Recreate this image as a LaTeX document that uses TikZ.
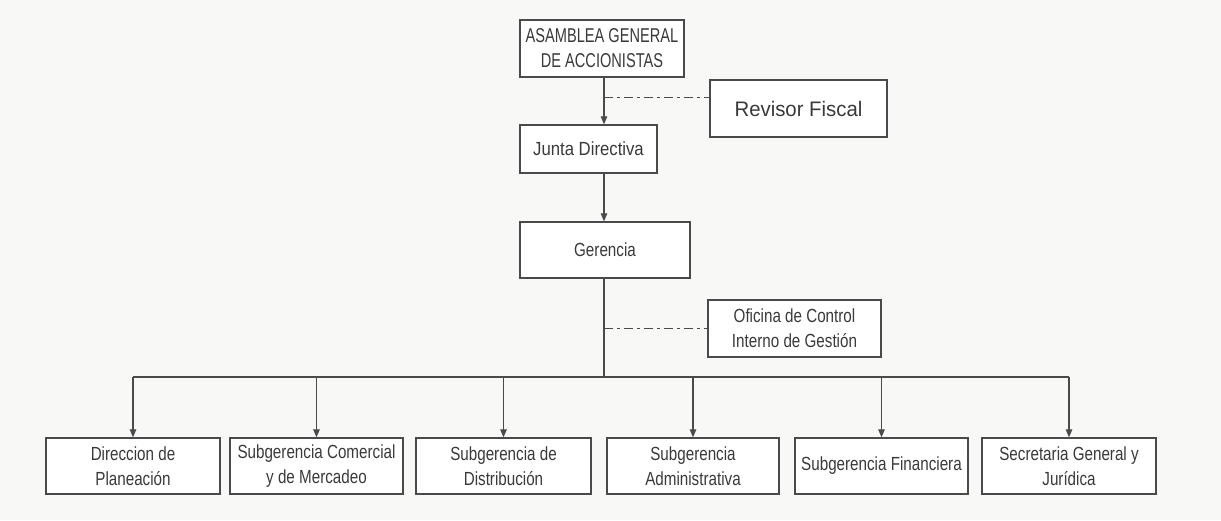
\documentclass[tikz,border=0pt]{standalone}
\usepackage{fontspec}
\usetikzlibrary{arrows.meta}
\newfontfamily\nf[FakeStretch=0.8]{Liberation Sans}
\newfontfamily\nfa[FakeStretch=0.73]{Liberation Sans}
\newfontfamily\nfr[FakeStretch=0.97]{Liberation Sans}
\newfontfamily\nfj[FakeStretch=0.88]{Liberation Sans}
\definecolor{ln}{HTML}{4A4A4A}
\definecolor{tx}{HTML}{3A3A3A}
\definecolor{bg}{HTML}{F8F8F7}
\begin{document}
\begin{tikzpicture}[x=1pt,y=-1pt,
  box/.style={draw=ln,line width=1.3pt,fill=white,inner sep=0pt,align=center,text=tx,
    font=\nf\fontsize{19}{25}\selectfont},
  conn/.style={draw=ln,line width=1.2pt},
  arr/.style={conn,-{Triangle[length=8pt,width=6.5pt]}},
  dd/.style={draw=ln,line width=1.2pt,dash pattern=on 9pt off 4pt on 3pt off 4pt}]
\useasboundingbox (0,0) rectangle (1221,520);
\fill[bg] (0,0) rectangle (1221,520);
% top
\node[box,minimum width=164pt,minimum height=57pt,font=\nfa\fontsize{20}{25}\selectfont] (asam) at (602,48.5) {ASAMBLEA GENERAL\\DE ACCIONISTAS};
\node[box,minimum width=177pt,minimum height=57pt,font=\nfr\fontsize{21}{25}\selectfont] (rev) at (798.5,108.5) {Revisor Fiscal};
\node[box,minimum width=137pt,minimum height=48pt,font=\nfj\fontsize{19}{25}\selectfont] (junta) at (588.5,149) {Junta Directiva};
\node[box,minimum width=170pt,minimum height=56pt] (ger) at (605,250) {Gerencia};
\node[box,minimum width=173pt,minimum height=57pt] (ofi) at (794.5,328.5) {Oficina de Control\\Interno de Gestión};
% bottom
\node[box,minimum width=174pt,minimum height=56pt] (d1) at (133,466) {Direccion de\\Planeación};
\node[box,minimum width=173pt,minimum height=56pt] (d2) at (316.5,466) {Subgerencia Comercial\\y de Mercadeo};
\node[box,minimum width=175pt,minimum height=56pt] (d3) at (503.5,466) {Subgerencia de\\Distribución};
\node[box,minimum width=172pt,minimum height=56pt] (d4) at (693,466) {Subgerencia\\Administrativa};
\node[box,minimum width=173pt,minimum height=56pt] (d5) at (881.5,466) {Subgerencia Financiera};
\node[box,minimum width=174pt,minimum height=56pt] (d6) at (1069,466) {Secretaria General y\\Jurídica};
% trunk
\coordinate (tx) at (604,0);
\coordinate (bus) at (604,377);
\path (rev.north west) ++(0,18) coordinate (rd);
\draw[arr] (asam.south -| tx) -- (junta.north -| tx);
\draw[arr] (junta.south -| tx) -- (ger.north -| tx);
\draw[dd] (rd -| tx) -- (rd);
\draw[dd] (ofi.west -| tx) -- (ofi.west);
\draw[conn] (ger.south -| tx) -- (bus);
\draw[conn] (d1.north |- bus) -- (d6.north |- bus);
\foreach \n in {d1,d2,d3,d4,d5,d6}{
  \draw[arr] (\n.north |- bus) -- (\n.north);
}
\end{tikzpicture}
\end{document}
